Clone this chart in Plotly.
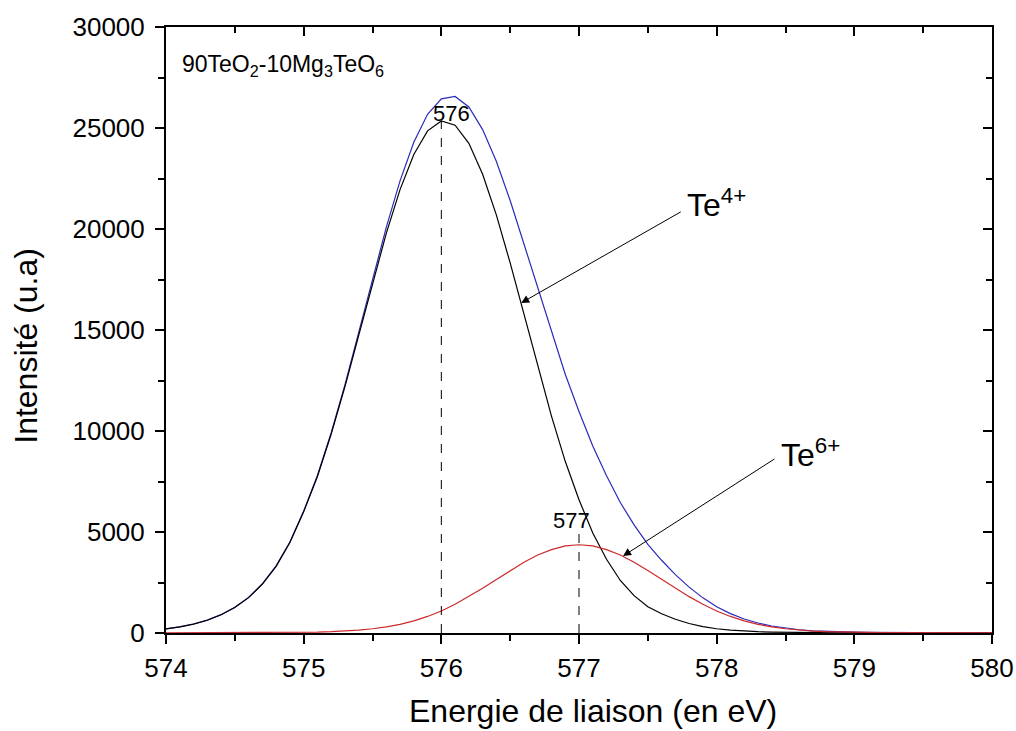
import plotly.graph_objects as go

# binding energy grid (eV) and fitted components
energy = [round(574 + 0.1 * i, 1) for i in range(61)]

te4 = [200, 300, 440, 630, 900, 1260, 1750, 2420, 3300, 4480,
       6000, 7750, 9850, 12200, 14740, 17320, 19780, 21950, 23690, 24860,
       25350, 25140, 24240, 22710, 20690, 18320, 15770, 13200, 10740, 8500,
       6600, 4950, 3650, 2600, 1850, 1300, 950, 680, 470, 320,
       210, 140, 95, 65, 45, 30, 20, 14, 10, 7,
       5, 4, 3, 3, 2, 2, 1, 1, 1, 1, 0]

te6 = [3, 4, 5, 6, 8, 10, 13, 17, 22, 28,
       35, 45, 65, 95, 140, 210, 300, 430, 600, 820,
       1090, 1420, 1800, 2210, 2650, 3090, 3500, 3860, 4130, 4310,
       4370, 4310, 4130, 3860, 3500, 3090, 2650, 2210, 1800, 1420,
       1090, 820, 600, 430, 300, 210, 140, 95, 65, 45,
       35, 27, 20, 16, 12, 10, 8, 6, 5, 4, 3]

envelope = [203, 304, 445, 636, 908, 1270, 1763, 2437, 3322, 4508,
            6035, 7795, 9915, 12295, 14880, 17530, 20080, 22380, 24290, 25680,
            26440, 26560, 26040, 24920, 23340, 21410, 19270, 17060, 14870, 12810,
            10970, 9260, 7780, 6460, 5350, 4390, 3600, 2890, 2270, 1740,
            1300, 960, 695, 495, 345, 240, 160, 109, 75, 52,
            40, 31, 23, 19, 14, 12, 9, 7, 6, 5, 3]

peak_pos = [576, 577]
peak_top = [25350, 4950]
peak_labels = ["576", "577"]

FONT = "Arial, Liberation Sans, sans-serif"

fig = go.Figure()
fig.add_trace(go.Scatter(x=energy, y=envelope, mode="lines", line={"color": "#2a2ab8", "width": 1.2}))
fig.add_trace(go.Scatter(x=energy, y=te4, mode="lines", line={"color": "black", "width": 1.2}))
fig.add_trace(go.Scatter(x=energy, y=te6, mode="lines", line={"color": "#cc2a2a", "width": 1.2}))
for pos, top in zip(peak_pos, peak_top):
  fig.add_trace(go.Scatter(x=[pos, pos], y=[0, top], mode="lines",
                           line={"color": "black", "width": 1, "dash": "dash"}))
# invisible trace so the mirrored axes get drawn
fig.add_trace(go.Scatter(x=[574], y=[0], xaxis="x2", yaxis="y2", mode="markers",
                         marker={"opacity": 0}, hoverinfo="skip"))

label_font = {"size": 22, "family": FONT, "color": "black"}
fig.add_annotation(x=peak_pos[0] + 0.077, y=25740, text=peak_labels[0], showarrow=False,
                   yanchor="middle", font=label_font)
fig.add_annotation(x=peak_pos[1] - 0.055, y=5590, text=peak_labels[1], showarrow=False,
                   yanchor="middle", font=label_font)
fig.add_annotation(x=574.1, y=28100, text="90TeO<sub>2</sub>-10Mg<sub>3</sub>TeO<sub>6</sub>",
                   showarrow=False, xanchor="left", yanchor="middle",
                   font={"size": 23, "family": FONT, "color": "black"})

# arrows
fig.add_annotation(x=576.58, y=16340, ax=577.75, ay=20890, axref="x", ayref="y", text="",
                   showarrow=True, arrowhead=2, arrowsize=1.6, arrowwidth=1, arrowcolor="black")
fig.add_annotation(x=577.32, y=3810, ax=578.43, ay=8660, axref="x", ayref="y", text="",
                   showarrow=True, arrowhead=2, arrowsize=1.6, arrowwidth=1, arrowcolor="black")
fig.add_annotation(x=577.77, y=21300, text="Te<sup>4+</sup>", showarrow=False, xanchor="left",
                   yanchor="middle", font={"size": 32, "family": FONT, "color": "black"})
fig.add_annotation(x=578.45, y=8900, text="Te<sup>6+</sup>", showarrow=False, xanchor="left",
                   yanchor="middle", font={"size": 32, "family": FONT, "color": "black"})

# axis titles as annotations (slightly off-centre in the original)
title_font = {"size": 32, "family": FONT, "color": "black"}
fig.add_annotation(x=0.517, y=0, xref="paper", yref="paper", yanchor="top", yshift=-58,
                   text="Energie de liaison (en eV)", showarrow=False, font=title_font)
fig.add_annotation(x=0, y=0.474, xref="paper", yref="paper", xanchor="center", yanchor="middle",
                   xshift=-140, textangle=-90, text="Intensité (u.a)", showarrow=False, font=title_font)

tickfont = {"size": 26, "family": FONT, "color": "black"}
fig.update_layout(
  width=1016,
  height=731,
  plot_bgcolor="white",
  paper_bgcolor="white",
  showlegend=False,
  margin={"l": 166, "r": 24, "t": 27, "b": 98, "autoexpand": False},
  xaxis={
    "range": [574, 580], "dtick": 1, "tick0": 574, "ticks": "outside", "ticklen": 9, "tickwidth": 2,
    "tickcolor": "black", "showline": True, "linewidth": 2, "linecolor": "black", "showgrid": False,
    "zeroline": False, "tickfont": tickfont, "tickformat": "d", "automargin": False, "ticklabelstandoff": 2,
    "minor": {"dtick": 0.5, "ticks": "outside", "ticklen": 6, "tickwidth": 2, "tickcolor": "black", "showgrid": False},
  },
  yaxis={
    "range": [0, 30000], "dtick": 5000, "ticks": "outside", "ticklen": 9, "tickwidth": 2,
    "tickcolor": "black", "showline": True, "linewidth": 2, "linecolor": "black", "showgrid": False,
    "zeroline": False, "tickfont": tickfont, "tickformat": "d", "automargin": False, "ticklabelstandoff": 5,
    "minor": {"dtick": 2500, "ticks": "outside", "ticklen": 6, "tickwidth": 2, "tickcolor": "black", "showgrid": False},
  },
  xaxis2={
    "overlaying": "x", "side": "top", "range": [574, 580], "dtick": 1, "tick0": 574, "ticks": "inside",
    "ticklen": 9, "tickwidth": 2, "tickcolor": "black", "showticklabels": False, "showline": True,
    "linewidth": 2, "linecolor": "black", "showgrid": False, "zeroline": False, "automargin": False,
    "minor": {"dtick": 0.5, "ticks": "inside", "ticklen": 6, "tickwidth": 2, "tickcolor": "black", "showgrid": False},
  },
  yaxis2={
    "overlaying": "y", "side": "right", "range": [0, 30000], "dtick": 5000, "ticks": "inside",
    "ticklen": 9, "tickwidth": 2, "tickcolor": "black", "showticklabels": False, "showline": True,
    "linewidth": 2, "linecolor": "black", "showgrid": False, "zeroline": False, "automargin": False,
    "minor": {"dtick": 2500, "ticks": "inside", "ticklen": 6, "tickwidth": 2, "tickcolor": "black", "showgrid": False},
  },
)

fig.write_html("out.html", config={"displayModeBar": False},
               post_script="document.body.style.margin = '0';")
